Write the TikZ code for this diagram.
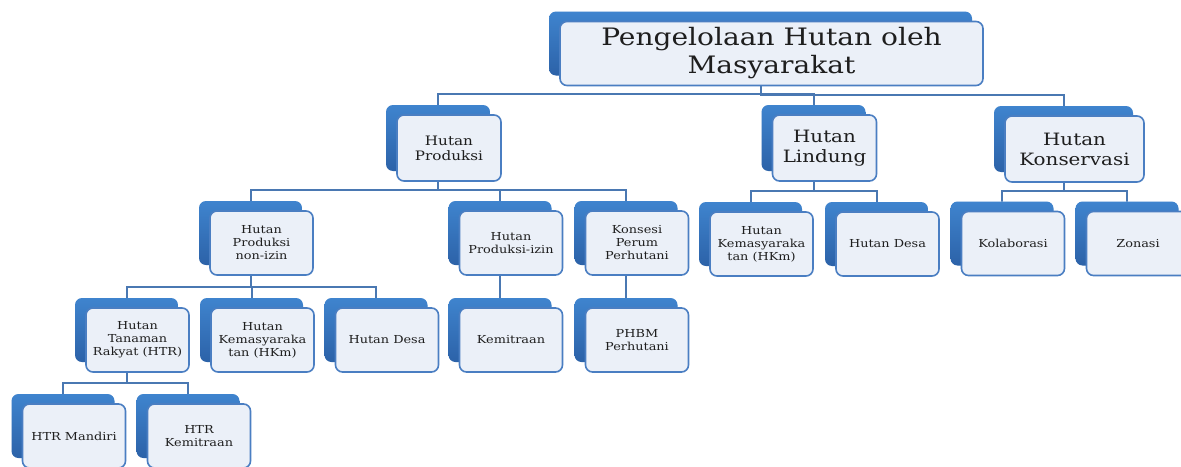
\documentclass[tikz,border=0pt]{standalone}
\usepackage{fontspec}
\setmainfont{DejaVu Serif}[FakeStretch=1.17]
\usetikzlibrary{shadows,backgrounds}

\definecolor{biruatas}{HTML}{3F84CE}
\definecolor{birubawah}{HTML}{2C62A8}
\definecolor{tepi}{HTML}{4A7EC2}
\definecolor{isi}{HTML}{EBF0F8}
\definecolor{sambung}{HTML}{4A78B2}
\definecolor{teks}{HTML}{1E1E1E}

\begin{document}
\begin{tikzpicture}[
		x=1pt, y=-1pt,
		kotak/.style={
			draw=tepi,
			fill=isi,
			line width=1.6pt,
			rounded corners=7pt,
			minimum width=103pt,
			minimum height=64pt,
			inner sep=2pt,
			align=center,
			text=teks,
			font=\fontsize{11}{13}\selectfont,
			copy shadow={shadow xshift=-11pt, shadow yshift=10pt, draw=none,
				top color=biruatas, bottom color=birubawah}
		},
		sedang/.style={font=\fontsize{13}{15}\selectfont},
		besar/.style={font=\fontsize{17}{20}\selectfont},
		judul/.style={font=\fontsize{24}{28}\selectfont},
		garis/.style={
			draw=sambung,
			line width=2pt,
			to path={([xshift=-11pt]\tikztostart.center) |- ([xshift=-11pt,yshift=20pt]\tikztotarget.north) -- ([xshift=-11pt]\tikztotarget.center)}
		}
		]
		
		\useasboundingbox (0,0) rectangle (1181,466);
		
		% puncak
		\node[kotak, judul, minimum width=423pt] (pengelolaan) at (771.5,53.5) {Pengelolaan Hutan oleh\\Masyarakat};
		
		% tingkat 1
		\node[kotak, sedang, minimum width=104pt, minimum height=66pt] (produksi) at (449,148) {Hutan\\Produksi};
		\node[kotak, besar, minimum width=104pt, minimum height=66pt] (lindung) at (824.5,148) {Hutan\\Lindung};
		\node[kotak, besar, minimum width=139pt, minimum height=66pt] (konservasi) at (1074.5,149) {Hutan\\Konservasi};
		
		% tingkat 2
		\node[kotak] (nonizin) at (261.5,243) {Hutan\\Produksi\\non-izin};
		\node[kotak] (izin) at (511,243) {Hutan\\Produksi-izin};
		\node[kotak] (konsesi) at (637,243) {Konsesi\\Perum\\Perhutani};
		\node[kotak] (hkmA) at (761.5,244) {Hutan\\Kemasyaraka\\tan (HKm)};
		\node[kotak] (desaA) at (887.5,244) {Hutan Desa};
		\node[kotak] (kolaborasi) at (1013,243.5) {Kolaborasi};
		\node[kotak] (zonasi) at (1138,243.5) {Zonasi};
		
		% tingkat 3
		\node[kotak] (htr) at (137.5,340) {Hutan\\Tanaman\\Rakyat (HTR)};
		\node[kotak] (hkmB) at (262.5,340) {Hutan\\Kemasyaraka\\tan (HKm)};
		\node[kotak] (desaB) at (387,340) {Hutan Desa};
		\node[kotak] (kemitraan) at (511,340) {Kemitraan};
		\node[kotak] (phbm) at (637,340) {PHBM\\Perhutani};
		
		% tingkat 4
		\node[kotak] (mandiri) at (74,436) {HTR Mandiri};
		\node[kotak] (htrkemitraan) at (199,436) {HTR\\Kemitraan};
		
		%Garis
		\begin{pgfonlayer}{background}
			\draw[garis] (pengelolaan) to (produksi);
			\draw[garis] (pengelolaan) to (lindung);
			\draw[garis] (pengelolaan) to (konservasi);
			
			\draw[garis] (produksi) to (nonizin);
			\draw[garis] (produksi) to (izin);
			\draw[garis] (produksi) to (konsesi);
			
			\draw[garis] (lindung) to (hkmA);
			\draw[garis] (lindung) to (desaA);
			
			\draw[garis] (konservasi) to (kolaborasi);
			\draw[garis] (konservasi) to (zonasi);
			
			\draw[garis] (nonizin) to (htr);
			\draw[garis] (nonizin) to (hkmB);
			\draw[garis] (nonizin) to (desaB);
			
			\draw[garis] (izin) to (kemitraan);
			\draw[garis] (konsesi) to (phbm);
			
			\draw[garis] (htr) to (mandiri);
			\draw[garis] (htr) to (htrkemitraan);
		\end{pgfonlayer}
		
	\end{tikzpicture}
\end{document}
